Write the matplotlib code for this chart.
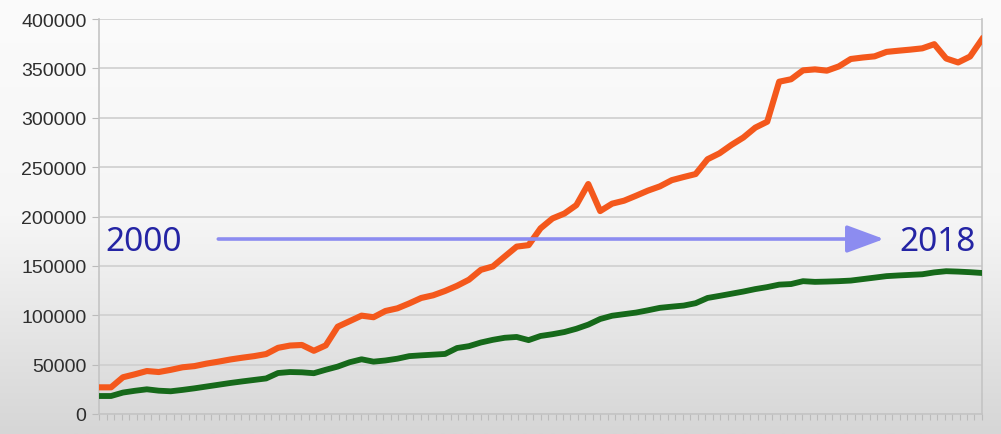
import numpy as np
import matplotlib
matplotlib.use('Agg')
import matplotlib.pyplot as plt


# ============================================
# Data (quarterly, 2000 -> 2018)
# ============================================

orange_values = [
    27000, 27000, 37200, 40200, 43500, 42500, 44700, 47300, 48500, 51000,
    53000, 55200, 57000, 58600, 60700, 67000, 69300, 69900, 64000, 69500,
    88400, 94000, 99600, 98000, 104300, 107000, 112000, 117500, 120200, 124600,
    129800, 136000, 146000, 149400, 159500, 169500, 171000, 188000, 198000, 203000,
    211500, 232900, 205500, 213000, 216000, 221000, 226200, 230500, 236800, 240000,
    243000, 258000, 264000, 272500, 280000, 290000, 296000, 336500, 339000, 348000,
    349000, 347700, 352000, 359500, 361000, 362200, 366700, 367900, 369000, 370300,
    374500, 360000, 356000, 362000, 379500,
]

green_values = [
    18200, 18200, 21700, 23500, 25000, 23600, 23000, 24400, 26000, 27800,
    29600, 31400, 33000, 34500, 36000, 41500, 42500, 42200, 41300, 44800,
    48000, 52400, 55400, 53000, 54200, 56000, 58600, 59400, 60100, 60800,
    66800, 68700, 72400, 75100, 77200, 78000, 74800, 79000, 80800, 83000,
    86300, 90500, 96200, 99500, 101100, 102700, 105000, 107500, 108700, 109800,
    112200, 117500, 119600, 121800, 124000, 126500, 128500, 131000, 131600, 134500,
    133800, 134100, 134500, 135100, 136600, 138100, 139600, 140300, 140900, 141500,
    143400, 144600, 144200, 143600, 142800,
]

quarters = np.arange(len(orange_values))
y_ticks = [0, 50000, 100000, 150000, 200000, 250000, 300000, 350000, 400000]
start_label = '2000'
end_label = '2018'

# ============================================
# Figure
# ============================================

fig = plt.figure(figsize=(10.01, 4.35), dpi=100)

# soft grey gradient behind everything (screen capture look)
bg = fig.add_axes([0, 0, 1, 1], zorder=-10)
grad = np.linspace(0, 1, 256).reshape(-1, 1)
bg.imshow(grad, aspect='auto', cmap=matplotlib.colors.LinearSegmentedColormap.from_list(
    'bg', ['#fbfbfb', '#f6f6f6', '#d6d6d6']), extent=[0, 1, 0, 1])
bg.axis('off')

ax = fig.add_axes([0.099, 0.046, 0.882, 0.908])
ax.patch.set_alpha(0)

ax.plot(quarters, orange_values, color='#f4581c', linewidth=4.4,
        solid_joinstyle='round', zorder=3)
ax.plot(quarters, green_values, color='#16691a', linewidth=4.2,
        solid_joinstyle='round', zorder=3)

ax.set_xlim(0, len(orange_values) - 1)
ax.set_ylim(0, 400000)
ax.set_yticks(y_ticks)
ax.set_yticklabels([str(v) for v in y_ticks])
ax.set_xticks(np.linspace(0, len(orange_values) - 1, 119))
ax.set_xticklabels([])

ax.grid(axis='y', color='#cfcfcf', linewidth=1.2)
ax.set_axisbelow(True)
ax.tick_params(axis='y', length=5, color='#bbbbbb', labelsize=14,
               labelcolor='#2e2e2e', pad=4)
ax.tick_params(axis='x', length=4, color='#bbbbbb', direction='out')
for label in ax.get_yticklabels():
    label.set_family('Liberation Sans')
for side in ['left', 'right', 'bottom']:
    ax.spines[side].set_color('#c4c4c4')
    ax.spines[side].set_linewidth(1.2)
ax.spines['top'].set_visible(False)

# time arrow 2000 -> 2018
ax.annotate('', xy=(0.889, 0.443), xytext=(0.135, 0.443),
            xycoords='axes fraction', textcoords='axes fraction',
            arrowprops=dict(arrowstyle='-|>,head_length=2.3,head_width=0.85',
                            color='#8c8cf0', linewidth=2.6, shrinkA=0, shrinkB=0),
            zorder=4)
ax.text(0.007, 0.436, start_label, transform=ax.transAxes, fontsize=24,
        family='Noto Sans', color='#2424a4', ha='left', va='center', zorder=5)
ax.text(0.993, 0.436, end_label, transform=ax.transAxes, fontsize=24,
        family='Noto Sans', color='#2424a4', ha='right', va='center', zorder=5)

plt.savefig('out.png', dpi=100)
